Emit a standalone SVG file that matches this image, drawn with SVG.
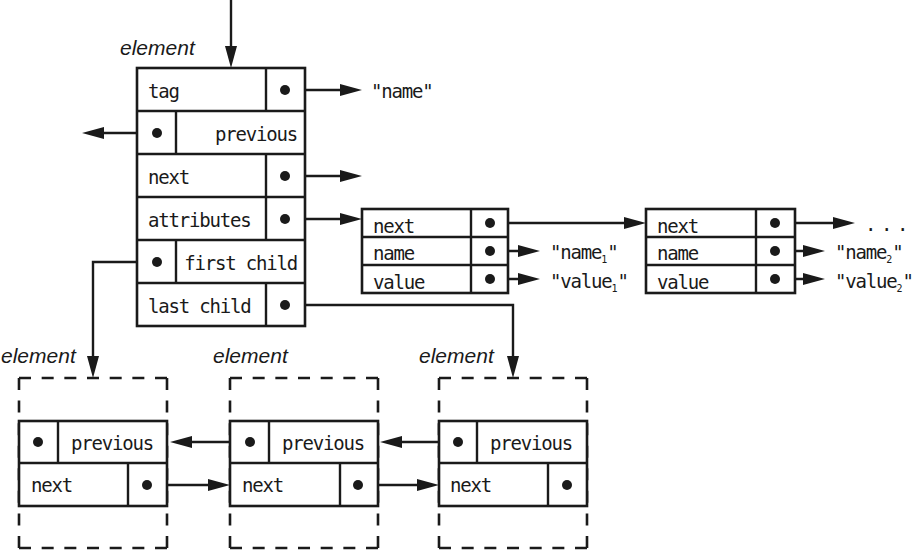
<svg xmlns="http://www.w3.org/2000/svg" width="912" height="552" viewBox="0 0 912 552">
<defs>
<marker id="ah" viewBox="0 0 22 12" refX="14" refY="6" markerWidth="22" markerHeight="12" markerUnits="userSpaceOnUse" orient="auto">
<path d="M0,0 L22,6 L0,12 Z" fill="#1a1a1a"/>
</marker>
<style>
.box{fill:#fff;stroke:#1a1a1a;stroke-width:2.6}
.ln{stroke:#1a1a1a;stroke-width:2.4;fill:none}
.dh{stroke:#1a1a1a;stroke-width:2.6;fill:none;stroke-dasharray:12 10.67}
.dv{stroke:#1a1a1a;stroke-width:2.6;fill:none;stroke-dasharray:12 10.57}
.con{stroke:#1a1a1a;stroke-width:2.4;fill:none;marker-end:url(#ah)}
.dot{fill:#1a1a1a}
.m{font-family:"DejaVu Sans Mono","Liberation Mono",monospace;font-size:19px;letter-spacing:-1.2px;fill:#1a1a1a}
.s{font-size:10px;letter-spacing:0}
.dots{letter-spacing:0}
.lab{font-family:"Liberation Sans","DejaVu Sans",sans-serif;font-style:italic;font-size:21px;fill:#1a1a1a}
</style>
</defs>
<rect width="912" height="552" fill="#fff"/>

<g id="connectors">
<path class="con" d="M231,0 V60"/>
<path class="con" d="M285,90 H354"/>
<path class="con" d="M157,133 H90"/>
<path class="con" d="M285,176 H354"/>
<path class="con" d="M285,219 H354"/>
<path class="con" d="M157,262 H93 V370"/>
<path class="con" d="M285,305 H513 V370"/>
<path class="con" d="M490,223 H638"/>
<path class="con" d="M490,251 H532"/>
<path class="con" d="M490,279 H532"/>
<path class="con" d="M775,223 H847"/>
<path class="con" d="M775,251 H817"/>
<path class="con" d="M775,279 H817"/>
<path class="con" d="M250,442 H178"/>
<path class="con" d="M147,485 H222"/>
<path class="con" d="M458,442 H388"/>
<path class="con" d="M358,485 H431"/>
</g>

<g id="element-main">
<text class="lab" x="120" y="55">element</text>
<rect class="box" x="137" y="68" width="168" height="258"/>
<path class="ln" d="M137,111 H305 M137,154 H305 M137,197 H305 M137,240 H305 M137,283 H305"/>
<path class="ln" d="M266,68 V111 M176,111 V154 M266,154 V197 M266,197 V240 M176,240 V283 M266,283 V326"/>
<text class="m" x="148" y="98">tag</text>
<text class="m" x="297" y="141" text-anchor="end">previous</text>
<text class="m" x="148" y="184">next</text>
<text class="m" x="148" y="227">attributes</text>
<text class="m" x="297" y="270" text-anchor="end">first child</text>
<text class="m" x="148" y="313">last child</text>
<circle class="dot" cx="285" cy="90" r="5"/>
<circle class="dot" cx="157" cy="133" r="5"/>
<circle class="dot" cx="285" cy="176" r="5"/>
<circle class="dot" cx="285" cy="219" r="5"/>
<circle class="dot" cx="157" cy="262" r="5"/>
<circle class="dot" cx="285" cy="305" r="5"/>
<text class="m" x="371" y="98">"name"</text>
</g>

<g id="attr1">
<rect class="box" x="362" y="209" width="146" height="84"/>
<path class="ln" d="M362,237 H508 M362,265 H508 M471,209 V293"/>
<text class="m" x="373" y="233">next</text>
<text class="m" x="373" y="260">name</text>
<text class="m" x="373" y="289">value</text>
<circle class="dot" cx="490" cy="223" r="5"/>
<circle class="dot" cx="490" cy="251" r="5"/>
<circle class="dot" cx="490" cy="279" r="5"/>
<text class="m" x="550" y="259">"name<tspan class="s" dy="4">1</tspan><tspan dy="-4">"</tspan></text>
<text class="m" x="550" y="288">"value<tspan class="s" dy="4">1</tspan><tspan dy="-4">"</tspan></text>
</g>

<g id="attr2">
<rect class="box" x="646" y="209" width="149" height="84"/>
<path class="ln" d="M646,237 H795 M646,265 H795 M756,209 V293"/>
<text class="m" x="657" y="233">next</text>
<text class="m" x="657" y="260">name</text>
<text class="m" x="657" y="289">value</text>
<circle class="dot" cx="775" cy="223" r="5"/>
<circle class="dot" cx="775" cy="251" r="5"/>
<circle class="dot" cx="775" cy="279" r="5"/>
<text class="m dots" x="865 881 897" y="231">...</text>
<text class="m" x="835" y="259">"name<tspan class="s" dy="4">2</tspan><tspan dy="-4">"</tspan></text>
<text class="m" x="835" y="288">"value<tspan class="s" dy="4">2</tspan><tspan dy="-4">"</tspan></text>
</g>

<g id="element-1">
<text class="lab" x="1" y="363">element</text>
<path class="dh" d="M19,378 H167 M19,548 H167"/>
<path class="dv" d="M19,378 V548 M167,378 V548"/>
<rect class="box" x="19" y="421" width="148" height="85"/>
<path class="ln" d="M19,463 H167 M58,421 V463 M128,463 V506"/>
<circle class="dot" cx="38" cy="442" r="5"/>
<text class="m" x="71" y="450">previous</text>
<text class="m" x="31" y="492">next</text>
<circle class="dot" cx="147" cy="485" r="5"/>
</g>

<g id="element-2">
<text class="lab" x="213" y="363">element</text>
<path class="dh" d="M230,378 H378 M230,548 H378"/>
<path class="dv" d="M230,378 V548 M378,378 V548"/>
<rect class="box" x="230" y="421" width="148" height="85"/>
<path class="ln" d="M230,463 H378 M269,421 V463 M340,463 V506"/>
<circle class="dot" cx="250" cy="442" r="5"/>
<text class="m" x="282" y="450">previous</text>
<text class="m" x="242" y="492">next</text>
<circle class="dot" cx="358" cy="485" r="5"/>
</g>

<g id="element-3">
<text class="lab" x="419" y="363">element</text>
<path class="dh" d="M439,378 H587 M439,548 H587"/>
<path class="dv" d="M439,378 V548 M587,378 V548"/>
<rect class="box" x="439" y="421" width="148" height="85"/>
<path class="ln" d="M439,463 H587 M477,421 V463 M548,463 V506"/>
<circle class="dot" cx="458" cy="442" r="5"/>
<text class="m" x="490" y="450">previous</text>
<text class="m" x="450" y="492">next</text>
<circle class="dot" cx="567" cy="485" r="5"/>
</g>
</svg>
